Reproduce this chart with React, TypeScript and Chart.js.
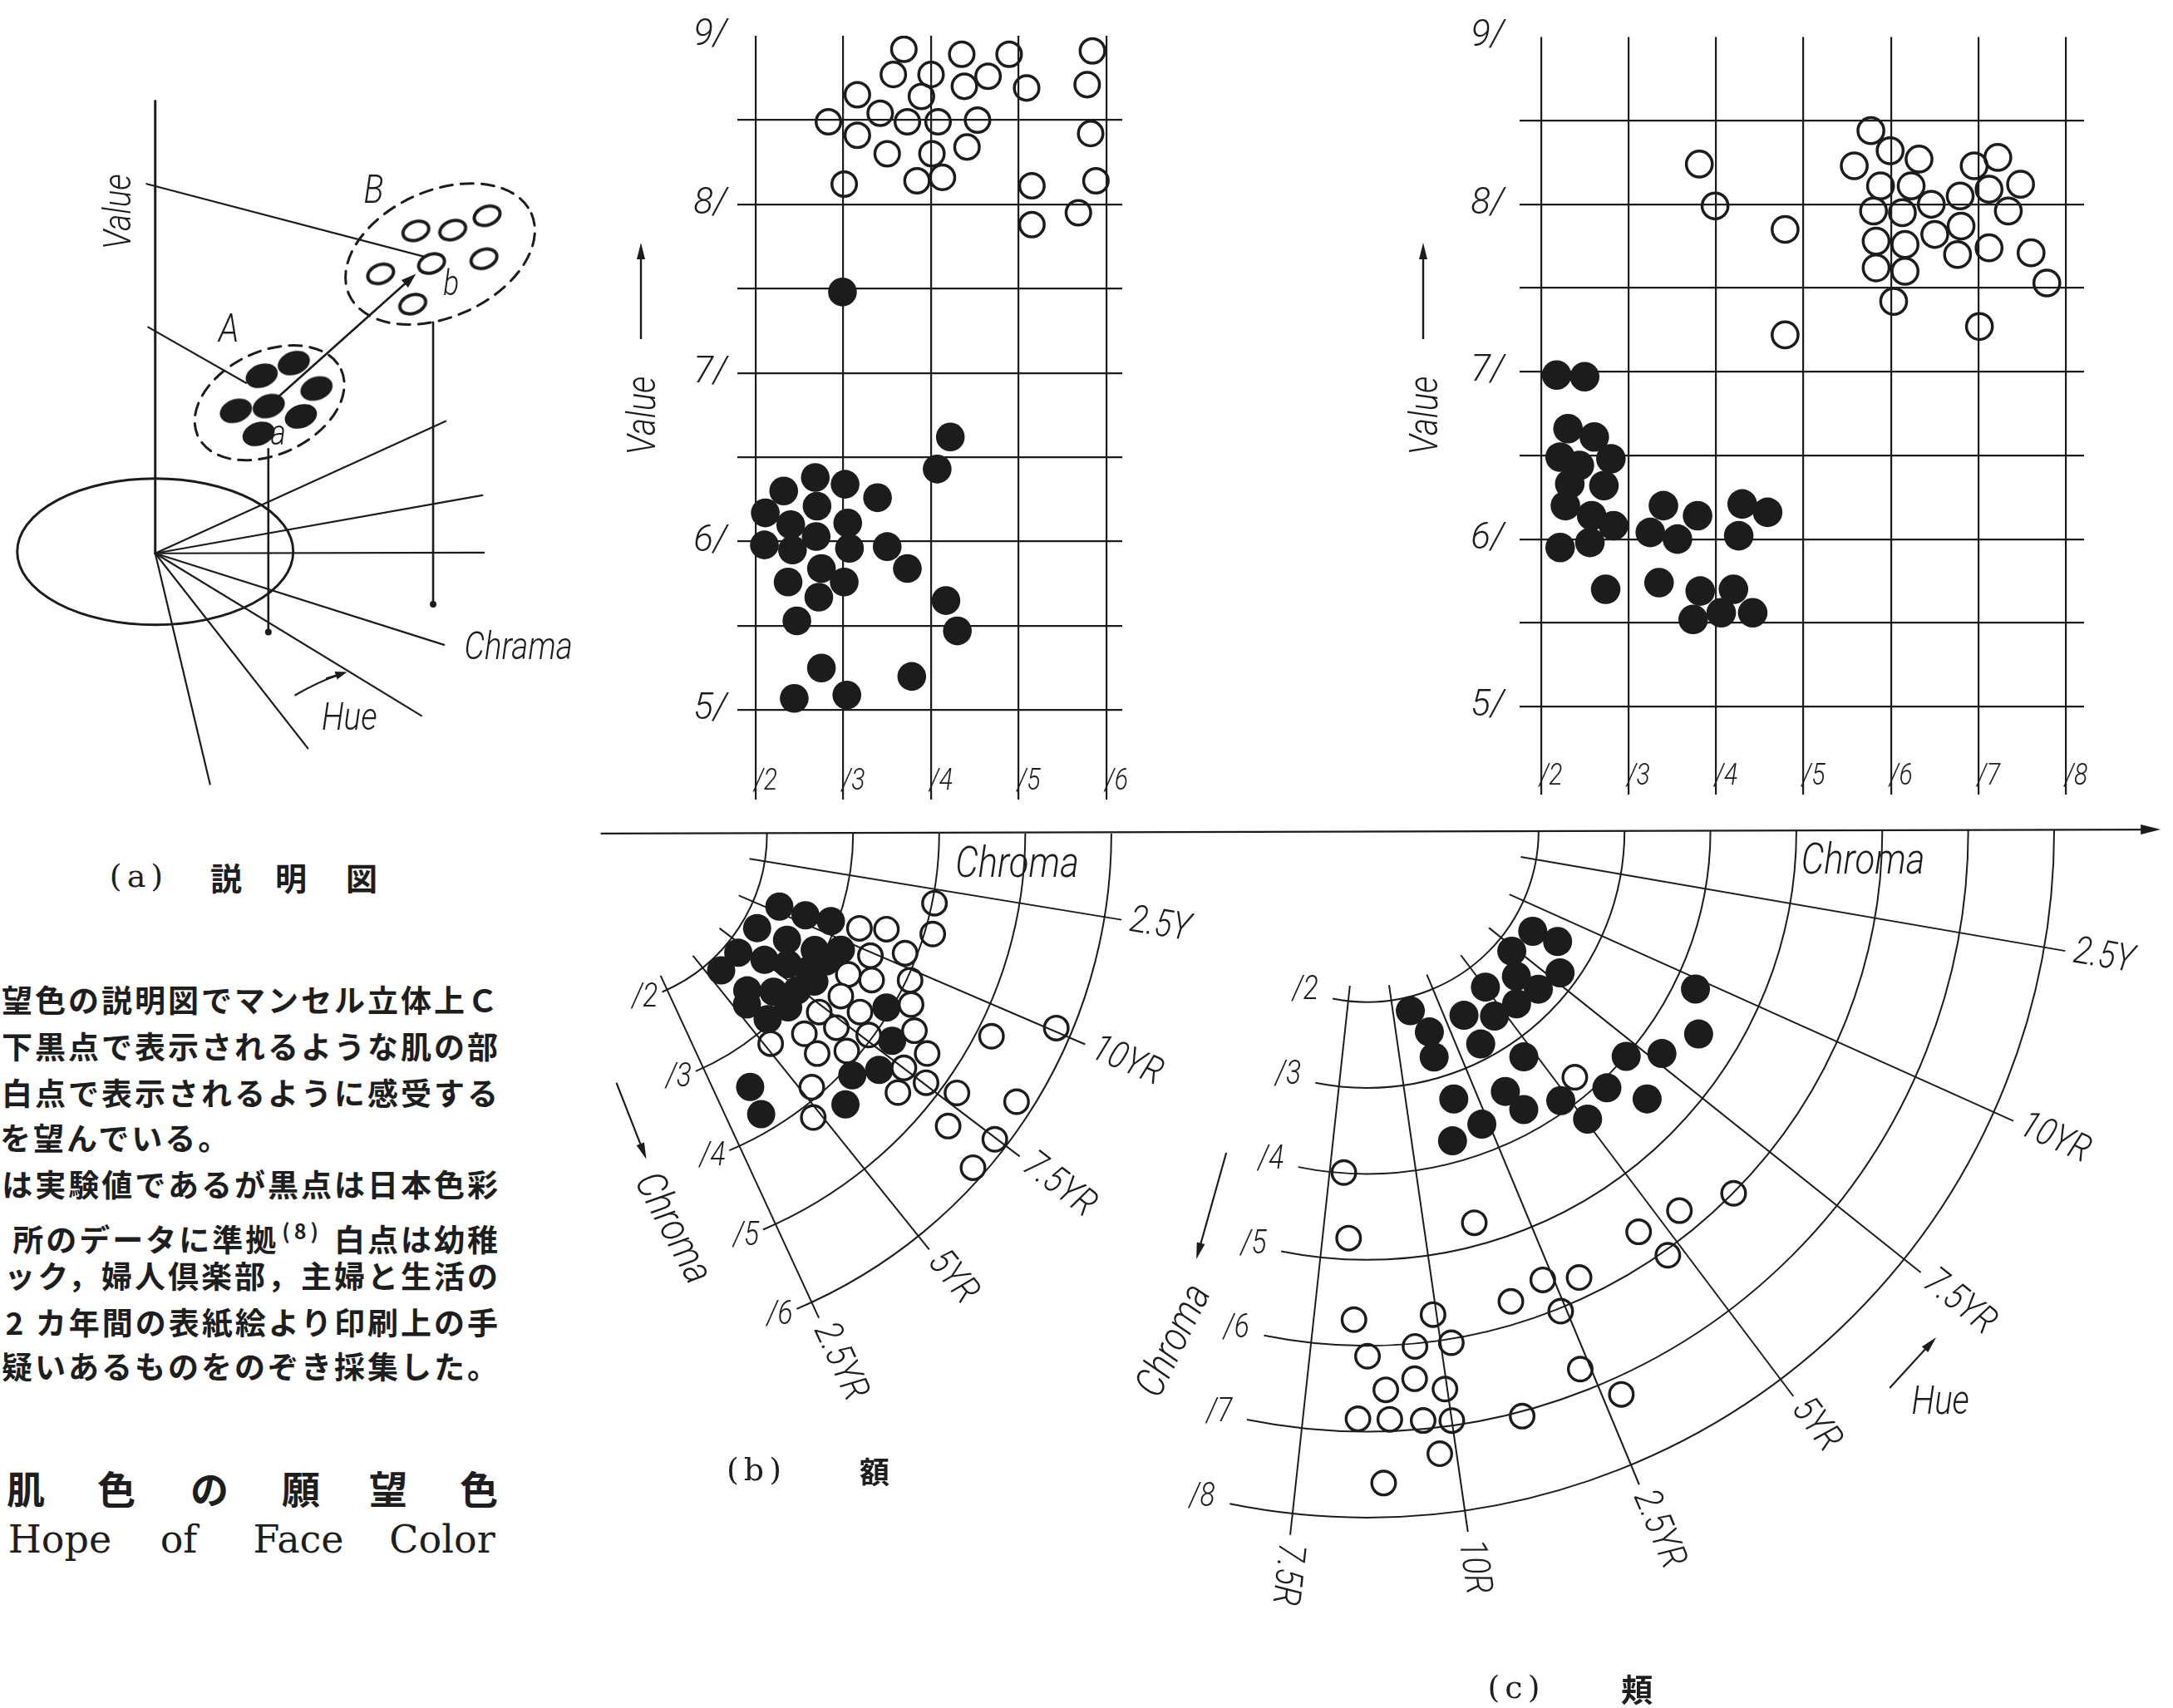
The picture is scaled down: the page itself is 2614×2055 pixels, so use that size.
import React, { useEffect, useRef } from 'react';
import { Chart, registerables } from 'chart.js';

Chart.register(...registerables);

// ================= DATA =================
// Value ticks shared by both Value/Chroma grids
const valueTicks = [5, 5.5, 6, 6.5, 7, 7.5, 8, 8.5, 9];

// ---- (b) 額 : upper Value / Chroma diagram ----
const bChromaTicks = [2, 3, 4, 5, 6];
const bUpperOpenChroma = [3.69, 4.35, 4.89, 5.84, 3.57, 4.0, 4.38, 4.65, 5.09, 5.78, 3.16, 3.89, 3.42, 2.83, 3.73, 4.08, 4.53, 3.16, 5.82, 3.5, 4.01, 4.41, 3.01, 3.84, 4.13, 5.15, 5.88, 5.68, 5.15];
const bUpperOpenValue = [8.92, 8.89, 8.89, 8.91, 8.77, 8.77, 8.7, 8.76, 8.69, 8.71, 8.65, 8.64, 8.54, 8.49, 8.49, 8.49, 8.5, 8.41, 8.42, 8.3, 8.3, 8.34, 8.12, 8.14, 8.16, 8.11, 8.14, 7.95, 7.88];
const bUpperFilledChroma = [2.99, 4.22, 4.07, 2.68, 3.02, 2.32, 3.39, 2.11, 2.7, 2.4, 3.05, 2.69, 2.1, 2.42, 3.07, 3.5, 2.75, 3.73, 2.37, 3.01, 2.72, 4.17, 2.47, 4.3, 2.75, 3.78, 2.44, 3.04];
const bUpperFilledValue = [7.48, 6.62, 6.43, 6.38, 6.34, 6.3, 6.26, 6.17, 6.21, 6.1, 6.11, 6.03, 5.98, 5.95, 5.96, 5.97, 5.84, 5.84, 5.76, 5.76, 5.67, 5.65, 5.53, 5.47, 5.25, 5.2, 5.07, 5.09];

// ---- (b) 額 : lower Hue / Chroma diagram (hue as Munsell number on the YR scale: 0 = 10R, 12.5 = 2.5Y) ----
const bChromaRings = [2, 3, 4, 5, 6];
const bHueSteps = [12.5, 10, 7.5, 5, 2.5];
const bHueNames = ['2.5Y', '10YR', '7.5YR', '5YR', '2.5YR'];
const bLowerOpenHue = [12.06, 11.16, 10.59, 10.87, 9.83, 10.34, 8.9, 9.11, 9.64, 8.11, 8.02, 9.02, 7.2, 7.15, 7.59, 8.43, 6.27, 6.79, 6.09, 5.13, 8.1, 7.44, 7.48, 6.84, 7.72, 9.26, 10.02, 8.29, 7.0, 7.4, 6.67, 5.24, 4.71];
const bLowerOpenChroma = [4.03, 4.1, 3.27, 3.57, 3.51, 3.87, 3.38, 3.65, 4.05, 3.44, 3.73, 4.19, 3.35, 3.62, 3.97, 4.38, 3.39, 3.89, 3.66, 3.21, 4.65, 4.53, 4.84, 4.66, 5.2, 5.19, 5.83, 5.83, 5.36, 5.88, 5.9, 3.91, 4.2];
const bLowerFilledHue = [10.25, 10.32, 10.47, 8.69, 8.92, 9.11, 9.58, 6.98, 7.53, 5.63, 8.0, 8.27, 5.89, 6.66, 7.33, 8.01, 5.44, 6.58, 5.67, 8.58, 7.85, 6.36, 6.98, 5.64, 3.63, 3.48, 8.92];
const bLowerFilledChroma = [2.31, 2.63, 2.93, 2.19, 2.56, 2.9, 3.17, 2.18, 2.47, 2.18, 2.72, 2.96, 2.56, 2.79, 2.99, 3.09, 2.68, 3.04, 2.97, 3.96, 4.23, 4.13, 4.32, 4.32, 3.49, 3.83, 3.08];

// ---- (c) 頬 : upper Value / Chroma diagram ----
const cChromaTicks = [2, 3, 4, 5, 6, 7, 8];
const cUpperOpenChroma = [5.77, 5.99, 6.32, 5.58, 3.81, 6.95, 7.22, 5.88, 6.23, 7.48, 7.12, 6.79, 3.99, 5.8, 6.13, 6.46, 7.34, 4.79, 6.8, 6.5, 5.83, 6.16, 7.12, 6.76, 7.6, 5.83, 6.16, 7.78, 6.03, 4.79, 7.01];
const cUpperOpenValue = [8.44, 8.32, 8.27, 8.23, 8.24, 8.23, 8.28, 8.11, 8.11, 8.12, 8.09, 8.05, 7.99, 7.96, 7.95, 8.0, 7.96, 7.85, 7.87, 7.82, 7.78, 7.76, 7.74, 7.7, 7.71, 7.62, 7.6, 7.53, 7.42, 7.22, 7.27];
const cUpperFilledChroma = [2.18, 2.5, 2.31, 2.61, 2.22, 2.8, 2.44, 2.33, 2.72, 2.28, 2.58, 2.83, 2.22, 2.56, 3.4, 3.79, 3.25, 3.56, 4.3, 4.59, 4.26, 2.74, 3.35, 3.82, 4.2, 3.74, 4.06, 4.42];
const cUpperFilledValue = [6.98, 6.97, 6.66, 6.61, 6.49, 6.48, 6.44, 6.33, 6.32, 6.2, 6.14, 6.08, 5.95, 5.98, 6.2, 6.14, 6.04, 6.0, 6.21, 6.16, 6.02, 5.7, 5.74, 5.69, 5.7, 5.52, 5.56, 5.56];

// ---- (c) 頬 : lower Hue / Chroma diagram ----
const cChromaRings = [2, 3, 4, 5, 6, 7, 8];
const cHueSteps = [12.5, 10, 7.5, 5, 2.5, 0, -2.5];
const cHueNames = ['2.5Y', '10YR', '7.5YR', '5YR', '2.5YR', '10R', '7.5R'];
const cLowerOpenHue = [5.47, -2.08, -1.86, 1.2, 6.37, 5.35, 4.43, 4.64, 2.24, 2.93, 1.49, 2.34, -1.68, -0.09, -1.41, -0.51, 0.18, -1.09, -0.57, -0.06, -1.57, -1.04, -0.49, -0.02, 1.12, 2.28, 2.74, -0.28, -1.17];
const cLowerOpenChroma = [3.79, 4.05, 4.82, 4.8, 6.05, 5.78, 5.7, 6.12, 5.69, 5.83, 5.81, 6.11, 5.78, 5.77, 6.21, 6.12, 6.13, 6.61, 6.5, 6.66, 6.95, 6.96, 7.0, 7.04, 7.15, 6.83, 7.29, 7.41, 7.71];
const cLowerFilledHue = [8.7, 8.89, 7.22, 7.81, 6.44, 6.7, 4.95, 5.59, 4.5, 3.33, 0.9, 1.53, 1.41, 3.39, 9.67, 8.66, 7.69, 7.0, 4.54, 5.97, 6.53, 4.7, 5.0, 3.37, 3.61, 1.65, 2.24, 1.22];
const cLowerFilledChroma = [2.27, 2.58, 2.21, 2.81, 2.45, 2.74, 2.31, 2.69, 2.65, 2.46, 2.19, 2.49, 2.79, 2.85, 4.26, 4.55, 4.33, 4.03, 3.24, 4.13, 4.55, 3.91, 4.27, 3.48, 3.77, 3.33, 3.72, 3.8];

// ---- (a) 説明図 : schematic clusters (diagram units) ----
const aFilledX = [312, 353, 279, 321, 382, 362, 308];
const aFilledY = [450, 434, 494, 488, 466, 501, 523];
const aOpenX = [509, 556, 600, 464, 529, 596, 505];
const aOpenY = [268, 267, 249, 322, 309, 303, 360];

// ================= STYLE / LAYOUT =================
const INK = '#1c1c1c';
const LABEL_FAMILY = 'Roboto, "Liberation Sans", "DejaVu Sans", sans-serif';
const CJK = '"Noto Sans CJK JP", "Noto Sans CJK SC", sans-serif';
const SERIF = '"DejaVu Serif", "Liberation Serif", serif';
const ital = (px: number) => `italic 300 ${px}px ${LABEL_FAMILY}`;
const SQUEEZE = 0.84;
const D2R = Math.PI / 180;

const A_BOX = { left: 0, top: 0, width: 720, height: 1000 };
const BU_BOX = { left: 740, top: 0, width: 640, height: 1000 };
const CU_BOX = { left: 1690, top: 0, width: 924, height: 1000 };
const P_BOX = { left: 690, top: 960, width: 1924, height: 1095 };

const B_CENTER = { x: 698, y: 986, k: 105.5 };
const C_CENTER = { x: 1644, y: 982, k: 105.3 };

const B_POLAR = { a0: 9.3, step: 13.97, arcEnd: 67, radStart: 1.82, radEnd: 6.2, labelR: 6.3, ringOff: 22 };
const C_POLAR = { a0: 9.8, step: 14.4, arcEnd: 101.5, radStart: 1.82, radEnd: 8.25, labelR: 8.35, ringOff: 34 };

const hueAngle = (h: number, g: any) => g.a0 + ((12.5 - h) / 2.5) * g.step;
const toXY = (h: number, c: number, g: any) => {
  const a = hueAngle(h, g) * D2R;
  return { x: c * Math.cos(a), y: c * Math.sin(a) };
};
const polarPoints = (hs: number[], cs: number[], g: any) => hs.map((h, i) => toXY(h, cs[i], g));
const xyPoints = (xs: number[], ys: number[]) => xs.map((x, i) => ({ x, y: ys[i] }));

function drawArrow(ctx: any, x1: number, y1: number, x2: number, y2: number, lw: number, hl: number, hw: number) {
  const a = Math.atan2(y2 - y1, x2 - x1);
  ctx.beginPath();
  ctx.lineWidth = lw;
  ctx.moveTo(x1, y1);
  ctx.lineTo(x2 - hl * 0.6 * Math.cos(a), y2 - hl * 0.6 * Math.sin(a));
  ctx.stroke();
  ctx.beginPath();
  ctx.moveTo(x2, y2);
  ctx.lineTo(x2 - hl * Math.cos(a) - hw * Math.sin(a), y2 - hl * Math.sin(a) + hw * Math.cos(a));
  ctx.lineTo(x2 - hl * Math.cos(a) + hw * Math.sin(a), y2 - hl * Math.sin(a) - hw * Math.cos(a));
  ctx.closePath();
  ctx.fill();
}

function rotText(ctx: any, text: string, x: number, y: number, deg: number, font: string, align = 'center') {
  ctx.save();
  ctx.translate(x, y);
  ctx.rotate(deg * D2R);
  ctx.scale(SQUEEZE, 1);
  ctx.font = font;
  ctx.textAlign = align;
  ctx.textBaseline = 'middle';
  ctx.fillText(text, 0, 0);
  ctx.restore();
}

const baseOptions = {
  responsive: false,
  animation: false,
  devicePixelRatio: 1,
  events: [],
  plugins: { legend: { display: false }, tooltip: { enabled: false } },
};

// ---------- (a) schematic ----------
function ellipseSprite(filled: boolean) {
  const c = document.createElement('canvas');
  c.width = 50;
  c.height = 42;
  const g = c.getContext('2d') as CanvasRenderingContext2D;
  g.translate(25, 21);
  g.rotate(-20 * D2R);
  g.beginPath();
  if (filled) {
    g.ellipse(0, 0, 20, 14, 0, 0, Math.PI * 2);
    g.fillStyle = INK;
    g.fill();
  } else {
    g.ellipse(0, 0, 16, 11, 0, 0, Math.PI * 2);
    g.lineWidth = 4;
    g.strokeStyle = INK;
    g.stroke();
  }
  return c;
}

function buildA() {
  const schematic = {
    id: 'schematic',
    beforeDatasetsDraw(chart: any) {
      const { ctx, scales } = chart;
      const X = (v: number) => scales.x.getPixelForValue(v);
      const Y = (v: number) => scales.y.getPixelForValue(v);
      const line = (x1: number, y1: number, x2: number, y2: number, lw: number) => {
        ctx.beginPath();
        ctx.lineWidth = lw;
        ctx.moveTo(X(x1), Y(y1));
        ctx.lineTo(X(x2), Y(y2));
        ctx.stroke();
      };
      ctx.save();
      ctx.strokeStyle = INK;
      ctx.fillStyle = INK;
      ctx.lineCap = 'round';
      // hue plane
      ctx.beginPath();
      ctx.lineWidth = 3;
      ctx.ellipse(X(176), Y(671), 166, 88, 0, 0, Math.PI * 2);
      ctx.stroke();
      // value axis
      line(176, 105, 176, 673, 3);
      // chroma rays
      const rays = [[547, 507], [594, 600], [596, 672], [545, 788], [516, 877], [371, 918], [246, 963]];
      rays.forEach(([ex, ey]) => line(176, 673, ex, ey, 2.2));
      // leader lines from value axis
      line(165, 209, 518, 300, 2.2);
      line(167, 389, 292, 459, 2.2);
      // verticals to hue plane
      line(320.5, 542, 320.5, 772, 2.6);
      line(531, 383, 531, 737, 2.6);
      [[320.5, 772], [531, 737]].forEach(([dx, dy]) => {
        ctx.beginPath();
        ctx.arc(X(dx), Y(dy), 4, 0, Math.PI * 2);
        ctx.fill();
      });
      // dashed cluster outlines
      ctx.setLineDash([15, 10]);
      ctx.lineWidth = 3;
      ctx.beginPath();
      ctx.ellipse(X(540), Y(297), 120, 76, -24 * D2R, 0, Math.PI * 2);
      ctx.stroke();
      ctx.beginPath();
      ctx.ellipse(X(322), Y(484), 95, 62, -25 * D2R, 0, Math.PI * 2);
      ctx.stroke();
      ctx.setLineDash([]);
      // a -> b arrow
      drawArrow(ctx, X(335), Y(475), X(509), Y(322), 2.6, 18, 6);
      // hue arrow
      ctx.beginPath();
      ctx.lineWidth = 2.2;
      ctx.moveTo(X(355), Y(851));
      ctx.quadraticCurveTo(X(385), Y(834), X(410), Y(826));
      ctx.stroke();
      drawArrow(ctx, X(395), Y(830), X(421), Y(822), 2.2, 14, 5);
      // labels
      rotText(ctx, 'Value', X(132), Y(244), -90, ital(46));
      rotText(ctx, 'B', X(455), Y(220), 0, ital(48));
      rotText(ctx, 'A', X(270), Y(395), 0, ital(48));
      rotText(ctx, 'a', X(333), Y(526), 0, ital(42));
      rotText(ctx, 'b', X(554), Y(338), 0, ital(42));
      rotText(ctx, 'Chrama', X(640), Y(794), 0, ital(46));
      rotText(ctx, 'Hue', X(424), Y(883), 0, ital(46));
      ctx.restore();
    },
  };
  return {
    type: 'scatter',
    data: {
      datasets: [
        { data: xyPoints(aOpenX, aOpenY), pointStyle: ellipseSprite(false), pointRadius: 20 },
        { data: xyPoints(aFilledX, aFilledY), pointStyle: ellipseSprite(true), pointRadius: 20 },
      ],
    },
    options: {
      ...baseOptions,
      layout: { padding: 0 },
      scales: {
        x: { type: 'linear', display: false, min: 0, max: A_BOX.width },
        y: { type: 'linear', display: false, min: 0, max: A_BOX.height, reverse: true },
      },
    },
    plugins: [schematic],
  };
}

// ---------- upper Value / Chroma grids ----------
function buildUpper(cfg: any) {
  const deco = {
    id: 'upperDeco',
    afterDraw(chart: any) {
      const { ctx, chartArea, scales } = chart;
      ctx.save();
      ctx.fillStyle = INK;
      ctx.strokeStyle = INK;
      cfg.chromaTicks.forEach((c: number) =>
        rotText(ctx, '/' + c, scales.x.getPixelForValue(c) + 12, chartArea.bottom - 21, 0, ital(36))
      );
      rotText(ctx, 'Value', chartArea.left - 111, 500, -90, ital(48));
      drawArrow(ctx, chartArea.left - 116, 408, chartArea.left - 116, 292, 2.4, 20, 5);
      ctx.restore();
    },
  };
  return {
    type: 'scatter',
    data: {
      datasets: [
        {
          data: xyPoints(cfg.openC, cfg.openV),
          pointRadius: cfg.openR,
          pointBorderWidth: 3.5,
          pointBorderColor: INK,
          pointBackgroundColor: 'rgba(0,0,0,0)',
        },
        {
          data: xyPoints(cfg.fillC, cfg.fillV),
          pointRadius: cfg.fillR,
          pointBorderWidth: 0,
          pointBorderColor: INK,
          pointBackgroundColor: INK,
        },
      ],
    },
    options: {
      ...baseOptions,
      layout: { padding: cfg.pad },
      scales: {
        x: {
          type: 'linear',
          min: cfg.xMin,
          max: cfg.xMax,
          afterBuildTicks: (axis: any) => {
            axis.ticks = cfg.chromaTicks.map((v: number) => ({ value: v }));
          },
          afterFit: (s: any) => {
            s.height = 0;
          },
          ticks: { display: false },
          border: { display: false },
          grid: { color: INK, lineWidth: 2.2, drawTicks: false },
        },
        y: {
          type: 'linear',
          min: cfg.yMin,
          max: 9,
          afterBuildTicks: (axis: any) => {
            axis.ticks = valueTicks.map((v) => ({ value: v }));
          },
          afterFit: (s: any) => {
            s.width = cfg.axisW;
          },
          ticks: {
            autoSkip: false,
            padding: cfg.tickPad,
            color: INK,
            font: { family: LABEL_FAMILY, size: 44, style: 'italic', weight: '300' },
            callback: (v: any) => (Number.isInteger(v) ? `${v}/` : ''),
          },
          border: { display: false },
          grid: {
            drawTicks: false,
            lineWidth: 2.2,
            color: (c: any) => (c.tick && c.tick.value === 9 ? 'rgba(0,0,0,0)' : INK),
          },
        },
      },
    },
    plugins: [deco],
  };
}

function buildBUpper() {
  const left = 887, right = 1350, top = 43, bottom = 986;
  const kv = 208.25;
  return buildUpper({
    openC: bUpperOpenChroma, openV: bUpperOpenValue,
    fillC: bUpperFilledChroma, fillV: bUpperFilledValue,
    chromaTicks: bChromaTicks,
    xMin: (left - B_CENTER.x) / B_CENTER.k,
    xMax: (right - B_CENTER.x) / B_CENTER.k,
    yMin: 9 - (bottom - top) / kv,
    axisW: left - BU_BOX.left,
    pad: { top, right: BU_BOX.left + BU_BOX.width - right, bottom: BU_BOX.height - bottom, left: 0 },
    tickPad: 12, openR: 14.8, fillR: 17.3,
  });
}

function buildCUpper() {
  const left = 1828, right = 2507, top = 41, bottom = 982;
  const kv = 208;
  const x0 = 1643, k = 105.3;
  return buildUpper({
    openC: cUpperOpenChroma, openV: cUpperOpenValue,
    fillC: cUpperFilledChroma, fillV: cUpperFilledValue,
    chromaTicks: cChromaTicks,
    xMin: (left - x0) / k,
    xMax: (right - x0) / k,
    yMin: 9 - (bottom - top) / kv,
    axisW: left - CU_BOX.left,
    pad: { top, right: CU_BOX.left + CU_BOX.width - right, bottom: CU_BOX.height - bottom, left: 0 },
    tickPad: 18, openR: 15.6, fillR: 17.8,
  });
}

// ---------- lower Hue / Chroma diagrams (both panels on one canvas) ----------
function buildPolar() {
  const range = (center: number, k: number, start: number, size: number) => ({
    min: (start - center) / k,
    max: (start + size - center) / k,
  });
  const xb = range(B_CENTER.x, B_CENTER.k, P_BOX.left, P_BOX.width);
  const yb = range(B_CENTER.y, B_CENTER.k, P_BOX.top, P_BOX.height);
  const xc = range(C_CENTER.x, C_CENTER.k, P_BOX.left, P_BOX.width);
  const yc = range(C_CENTER.y, C_CENTER.k, P_BOX.top, P_BOX.height);

  const deco = {
    id: 'polarDeco',
    afterDatasetsDraw(chart: any) {
      const { ctx, scales } = chart;
      const geo = (xs: any, ys: any) => {
        const cx = xs.getPixelForValue(0), cy = ys.getPixelForValue(0);
        return { cx, cy, k: xs.getPixelForValue(1) - cx };
      };
      const B = geo(scales.xb, scales.yb);
      const C = geo(scales.xc, scales.yc);
      ctx.save();
      ctx.strokeStyle = INK;
      ctx.fillStyle = INK;
      const grid = (G: any, g: any, rings: number[], hues: number[], names: string[]) => {
        ctx.lineWidth = 2;
        rings.forEach((ch) => {
          ctx.beginPath();
          ctx.arc(G.cx, G.cy, ch * G.k, 0, g.arcEnd * D2R);
          ctx.stroke();
        });
        hues.forEach((h, i) => {
          const a = hueAngle(h, g) * D2R, cs = Math.cos(a), sn = Math.sin(a);
          ctx.beginPath();
          ctx.lineWidth = 2;
          ctx.moveTo(G.cx + g.radStart * G.k * cs, G.cy + g.radStart * G.k * sn);
          ctx.lineTo(G.cx + g.radEnd * G.k * cs, G.cy + g.radEnd * G.k * sn);
          ctx.stroke();
          rotText(ctx, names[i], G.cx + g.labelR * G.k * cs, G.cy + g.labelR * G.k * sn, hueAngle(h, g), ital(46), 'left');
        });
        rings.forEach((ch) => {
          const r = ch * G.k, a = g.arcEnd * D2R + g.ringOff / r;
          rotText(ctx, '/' + ch, G.cx + r * Math.cos(a), G.cy + r * Math.sin(a), 0, ital(40));
        });
      };
      grid(B, B_POLAR, bChromaRings, bHueSteps, bHueNames);
      grid(C, C_POLAR, cChromaRings, cHueSteps, cHueNames);

      // common chroma axis with arrow
      drawArrow(ctx, B.cx + 7, B.cy, C.cx + 955, C.cy - 1, 2.2, 24, 6);

      // axis titles
      rotText(ctx, 'Chroma', B.cx + 508, B.cy + 39, 0, ital(52));
      rotText(ctx, 'Chroma', C.cx + 597, C.cy + 39, 0, ital(52));
      drawArrow(ctx, B.cx + 26, B.cy + 300, B.cx + 62, B.cy + 392, 2.2, 20, 5);
      rotText(ctx, 'Chroma', B.cx + 92, B.cy + 476, 62, ital(50));
      drawArrow(ctx, C.cx - 169, C.cy + 388, C.cx - 205, C.cy + 516, 2.2, 20, 5);
      rotText(ctx, 'Chroma', C.cx - 230, C.cy + 615, -64, ital(50));
      drawArrow(ctx, C.cx + 629, C.cy + 671, C.cx + 685, C.cy + 610, 2.2, 20, 5);
      rotText(ctx, 'Hue', C.cx + 690, C.cy + 690, 0, ital(48));
      ctx.restore();
    },
  };

  const openStyle = { pointBorderWidth: 3.4, pointBorderColor: INK, pointBackgroundColor: '#ffffff' };
  const fillStyle = { pointBorderWidth: 0, pointBorderColor: INK, pointBackgroundColor: INK };
  return {
    type: 'scatter',
    data: {
      datasets: [
        { data: polarPoints(bLowerOpenHue, bLowerOpenChroma, B_POLAR), xAxisID: 'xb', yAxisID: 'yb', pointRadius: 14.3, ...openStyle },
        { data: polarPoints(bLowerFilledHue, bLowerFilledChroma, B_POLAR), xAxisID: 'xb', yAxisID: 'yb', pointRadius: 17, ...fillStyle },
        { data: polarPoints(cLowerOpenHue, cLowerOpenChroma, C_POLAR), xAxisID: 'xc', yAxisID: 'yc', pointRadius: 14.3, ...openStyle },
        { data: polarPoints(cLowerFilledHue, cLowerFilledChroma, C_POLAR), xAxisID: 'xc', yAxisID: 'yc', pointRadius: 17.5, ...fillStyle },
      ],
    },
    options: {
      ...baseOptions,
      layout: { padding: 0 },
      scales: {
        x: { type: 'linear', display: false },
        y: { type: 'linear', display: false },
        xb: { type: 'linear', axis: 'x', display: false, min: xb.min, max: xb.max },
        yb: { type: 'linear', axis: 'y', display: false, min: yb.min, max: yb.max, reverse: true },
        xc: { type: 'linear', axis: 'x', display: false, min: xc.min, max: xc.max },
        yc: { type: 'linear', axis: 'y', display: false, min: yc.min, max: yc.max, reverse: true },
      },
    },
    plugins: [deco],
  };
}

// ================= COMPONENTS =================
function ChartBox({ box, build }: { box: any; build: () => any }) {
  const ref = useRef<HTMLCanvasElement | null>(null);
  useEffect(() => {
    const chart = new Chart(ref.current as HTMLCanvasElement, build());
    return () => chart.destroy();
  }, []);
  return (
    <canvas
      ref={ref}
      width={box.width}
      height={box.height}
      style={{ position: 'absolute', left: box.left, top: box.top, width: box.width, height: box.height }}
    />
  );
}

const TEXT_COLOR = '#1e1e1e';

function Centered({ x, y, size, family, children, spacing = 0, weight = 400 }: any) {
  return (
    <div
      style={{
        position: 'absolute', left: x, top: y, transform: 'translate(-50%, -50%)',
        fontSize: size, fontFamily: family, lineHeight: 1, whiteSpace: 'nowrap',
        color: TEXT_COLOR, letterSpacing: spacing, fontWeight: weight,
      }}
    >
      {children}
    </div>
  );
}

const noteLineY = [1205, 1261, 1317, 1371, 1427, 1483, 1537, 1593, 1646];

function Notes() {
  const lines: any[] = [
    '望色の説明図でマンセル立体上Ｃ',
    '下黒点で表示されるような肌の部',
    '白点で表示されるように感受する',
    null,
    'は実験値であるが黒点は日本色彩',
    <>所のデータに準拠<span style={{ fontSize: 25, verticalAlign: '0.6em', letterSpacing: 5, marginLeft: 4, marginRight: 14 }}>(8)</span>白点は幼稚</>,
    'ック，婦人倶楽部，主婦と生活の',
    '2 カ年間の表紙絵より印刷上の手',
    '疑いあるものをのぞき採集した。',
  ];
  const common = {
    position: 'absolute' as const, fontSize: 37, lineHeight: '37px', letterSpacing: 3,
    fontFamily: CJK, fontWeight: 700, color: TEXT_COLOR, whiteSpace: 'nowrap' as const,
  };
  return (
    <>
      {lines.map((ln, i) =>
        ln === null ? (
          <div key={i} style={{ ...common, left: 0, top: noteLineY[i] - 20.6 }}>を望んでいる。</div>
        ) : (
          <div key={i} style={{ ...common, left: 0, top: noteLineY[i] - 20.6, width: 602, textAlign: 'right' }}>{ln}</div>
        )
      )}
    </>
  );
}

const titleChars = ['肌', '色', 'の', '願', '望', '色'];
const titleX = [31, 140, 252, 362, 467, 576];
const subtitleWords = ['Hope', 'of', 'Face', 'Color'];
const subtitleX = [72, 215, 359, 532];

export default function App() {
  return (
    <div style={{ position: 'absolute', left: 0, top: 0, width: 2614, height: 2055, background: '#ffffff', overflow: 'hidden' }}>
      <ChartBox box={A_BOX} build={buildA} />
      <ChartBox box={BU_BOX} build={buildBUpper} />
      <ChartBox box={CU_BOX} build={buildCUpper} />
      <ChartBox box={P_BOX} build={buildPolar} />

      {/* (a) caption */}
      <Centered x={167} y={1054} size={38} family={SERIF} spacing={6}>(a)</Centered>
      <Centered x={272} y={1055} size={38} family={CJK} weight={700}>説</Centered>
      <Centered x={350} y={1055} size={38} family={CJK} weight={700}>明</Centered>
      <Centered x={435} y={1055} size={38} family={CJK} weight={700}>図</Centered>

      <Notes />

      {titleChars.map((ch, i) => (
        <Centered key={i} x={titleX[i]} y={1789} size={46} family={CJK} weight={700}>{ch}</Centered>
      ))}
      {subtitleWords.map((w, i) => (
        <div key={w} style={{ position: 'absolute', left: subtitleX[i], top: 1829, transform: 'translateX(-50%)', fontSize: 46, lineHeight: 1, fontFamily: SERIF, color: TEXT_COLOR, whiteSpace: 'nowrap' }}>
          {w}
        </div>
      ))}

      {/* (b) and (c) captions */}
      <Centered x={910} y={1768} size={38} family={SERIF} spacing={6}>(b)</Centered>
      <Centered x={1052} y={1769} size={36} family={CJK} weight={700}>額</Centered>
      <Centered x={1824} y={2030} size={38} family={SERIF} spacing={6}>(c)</Centered>
      <Centered x={1969} y={2031} size={38} family={CJK} weight={700}>頬</Centered>
    </div>
  );
}
